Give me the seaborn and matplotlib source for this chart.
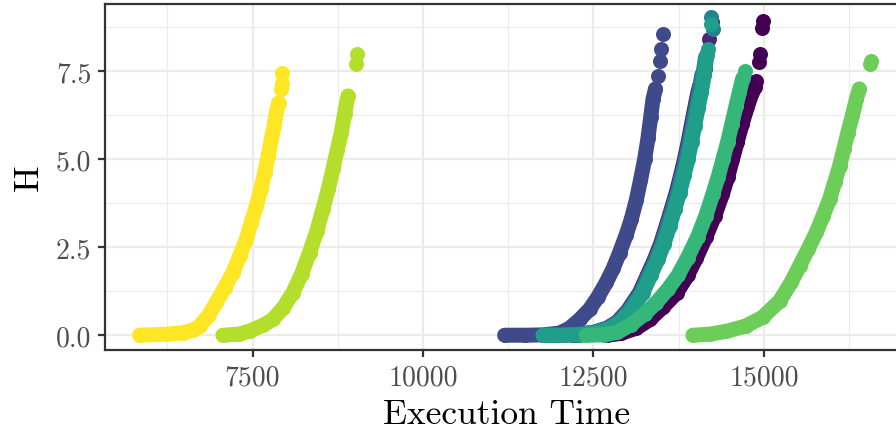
import matplotlib
matplotlib.use("Agg")
import matplotlib.pyplot as plt
import seaborn as sns

# colours of the ten runs (viridis, 10 levels)
run_colors = ["#440154", "#482878", "#3E4A89", "#31688E", "#26828E",
              "#1F9E89", "#35B779", "#6DCD59", "#B4DE2C", "#FDE725"]

# run 1
r1_t = [12700, 12900, 13130, 13330, 13520, 13720, 13880, 14010, 14150, 14280,
        14390, 14470, 14540, 14610, 14680, 14760, 14830, 14870]
r1_h = [0.0, 0.05, 0.2, 0.45, 0.8, 1.2, 1.7, 2.2, 2.8, 3.4,
        4.0, 4.5, 5.0, 5.5, 6.0, 6.5, 6.9, 7.04]
r1_dots_t = [14889, 14928, 14937, 14977, 14986]
r1_dots_h = [7.22, 7.75, 7.98, 8.74, 8.93]

# run 2
r2_t = [11900, 12200, 12500, 12700, 12850, 13000, 13176, 13290, 13396, 13485,
        13567, 13645, 13714, 13780, 13836, 13890, 13934, 13985, 14032, 14060]
r2_h = [0.0, 0.02, 0.08, 0.2, 0.38, 0.7, 1.21, 1.7, 2.16, 2.6,
        3.1, 3.6, 4.05, 4.55, 5.0, 5.5, 5.95, 6.45, 6.9, 7.1]
r2_dots_t = [14141, 14165, 14190, 14239]
r2_dots_h = [7.56, 8.03, 8.41, 8.89]

# run 3
r3_t = [11197, 11500, 11760, 12000, 12150, 12300, 12444, 12570, 12689, 12790,
        12884, 12980, 13056, 13130, 13190, 13251, 13300, 13340, 13373, 13410]
r3_h = [0.0, 0.0, 0.01, 0.06, 0.2, 0.45, 0.74, 1.1, 1.5, 1.9,
        2.35, 2.85, 3.3, 3.85, 4.4, 5.0, 5.6, 6.2, 6.7, 7.0]
r3_dots_t = [13446, 13471, 13485, 13520]
r3_dots_h = [7.37, 7.79, 8.13, 8.57]

# run 4
r4_t = [11800, 12000, 12265, 12515, 12715, 12865, 13015, 13191, 13305, 13411,
        13500, 13582, 13660, 13729, 13795, 13851, 13905, 13949, 14000, 14047, 14090]
r4_h = [0.0, 0.0, 0.02, 0.08, 0.2, 0.38, 0.7, 1.21, 1.7, 2.16,
        2.6, 3.1, 3.6, 4.05, 4.55, 5.0, 5.5, 5.95, 6.45, 6.9, 7.4]
r4_dots_t = []
r4_dots_h = []

# run 5
r5_t = [11780, 12000, 12280, 12530, 12730, 12880, 13030, 13206, 13320, 13426,
        13515, 13597, 13675, 13744, 13810, 13866, 13920, 13964, 14015, 14062, 14105, 14145]
r5_h = [0.0, 0.0, 0.02, 0.08, 0.2, 0.38, 0.7, 1.21, 1.7, 2.16,
        2.6, 3.1, 3.6, 4.05, 4.55, 5.0, 5.5, 5.95, 6.45, 6.9, 7.4, 7.9]
r5_dots_t = [14229, 14253]
r5_dots_h = [9.03, 8.69]

# run 6
r6_t = [11759, 12000, 12300, 12550, 12750, 12900, 13050, 13226, 13340, 13446,
        13535, 13617, 13695, 13764, 13830, 13886, 13940, 13984, 14035, 14082, 14125, 14165]
r6_h = [0.0, 0.0, 0.02, 0.08, 0.2, 0.38, 0.7, 1.21, 1.7, 2.16,
        2.6, 3.1, 3.6, 4.05, 4.55, 5.0, 5.5, 5.95, 6.45, 6.9, 7.4, 7.95]
r6_dots_t = [14180, 14229]
r6_dots_h = [8.13, 8.84]

# run 7
r7_t = [12396, 12650, 12850, 13050, 13250, 13420, 13590, 13740, 13880, 14030,
        14150, 14250, 14330, 14400, 14470, 14530, 14590, 14640, 14690]
r7_h = [0.0, 0.01, 0.08, 0.3, 0.6, 0.92, 1.3, 1.7, 2.2, 2.8,
        3.4, 4.0, 4.5, 5.0, 5.5, 6.0, 6.5, 6.9, 7.3]
r7_dots_t = [14728]
r7_dots_h = [7.52]

# run 8
r8_t = [13959, 14204, 14449, 14732, 14981, 15231, 15400, 15524, 15650, 15769,
        15870, 15964, 16040, 16111, 16175, 16233, 16300, 16356, 16400]
r8_h = [0.0, 0.03, 0.11, 0.26, 0.51, 0.97, 1.5, 1.97, 2.45, 2.92,
        3.4, 3.86, 4.35, 4.81, 5.3, 5.76, 6.25, 6.7, 7.0]
r8_dots_t = [16561, 16575]
r8_dots_h = [7.70, 7.79]

# run 9
r9_t = [7064, 7300, 7456, 7650, 7798, 7950, 8091, 8220, 8336, 8440,
        8531, 8610, 8678, 8740, 8801, 8850, 8898]
r9_h = [0.0, 0.03, 0.12, 0.28, 0.45, 0.78, 1.21, 1.75, 2.35, 2.95,
        3.58, 4.15, 4.72, 5.25, 5.76, 6.3, 6.8]
r9_dots_t = [9011, 9030]
r9_dots_h = [7.70, 7.98]

# run 10
r10_t = [5842, 6239, 6473, 6620, 6722, 6850, 6967, 7090, 7211, 7310,
         7407, 7480, 7554, 7620, 7676, 7730, 7774, 7815, 7847, 7880]
r10_h = [0.0, 0.03, 0.07, 0.14, 0.26, 0.55, 0.93, 1.35, 1.78, 2.25,
         2.73, 3.2, 3.67, 4.15, 4.62, 5.1, 5.57, 5.95, 6.33, 6.6]
r10_dots_t = [7921, 7935, 7935]
r10_dots_h = [6.99, 7.18, 7.44]

x_ticks = [7500, 10000, 12500, 15000]
x_tick_labels = ["7500", "10000", "12500", "15000"]
x_minor = [6250, 8750, 11250, 13750, 16250]
y_ticks = [0.0, 2.5, 5.0, 7.5]
y_tick_labels = ["0.0", "2.5", "5.0", "7.5"]
y_minor = [1.25, 3.75, 6.25, 8.75]

runs = [
    (r1_t, r1_h, r1_dots_t, r1_dots_h),
    (r2_t, r2_h, r2_dots_t, r2_dots_h),
    (r3_t, r3_h, r3_dots_t, r3_dots_h),
    (r4_t, r4_h, r4_dots_t, r4_dots_h),
    (r5_t, r5_h, r5_dots_t, r5_dots_h),
    (r6_t, r6_h, r6_dots_t, r6_dots_h),
    (r7_t, r7_h, r7_dots_t, r7_dots_h),
    (r8_t, r8_h, r8_dots_t, r8_dots_h),
    (r9_t, r9_h, r9_dots_t, r9_dots_h),
    (r10_t, r10_h, r10_dots_t, r10_dots_h),
]

sns.set_theme(style="white")
plt.rcParams["font.family"] = ["cmr10", "DejaVu Serif"]
plt.rcParams["mathtext.fontset"] = "cm"
plt.rcParams["axes.formatter.use_mathtext"] = True

fig = plt.figure(figsize=(8.96, 4.35), dpi=100)
# panel runs past the right edge of the picture, like the reference crop
ax = fig.add_axes([105.3 / 896, 1 - 351 / 435, 801.7 / 896, 346.3 / 435])

# points are ~15 px wide; the dense part of each run is drawn as a band of that width
dot_pt = 15 * 72 / 100
for i, ((t, h, dt, dh), col) in enumerate(zip(runs, run_colors)):
    z = 2 + i * 0.1
    sns.lineplot(x=t, y=h, sort=False, estimator=None, color=col,
                 ax=ax, zorder=z)
    band = ax.lines[-1]
    band.set_linewidth(dot_pt)
    band.set_solid_capstyle("round")
    band.set_solid_joinstyle("round")
    sns.scatterplot(x=t + dt, y=h + dh, color=col, s=dot_pt ** 2,
                    linewidth=0, ax=ax, zorder=z + 0.05)

ax.set_xlim(5339, 17100)
ax.set_ylim(-0.42, 9.42)

ax.set_xticks(x_ticks, x_tick_labels)
ax.set_xticks(x_minor, minor=True)
ax.set_yticks(y_ticks, y_tick_labels)
ax.set_yticks(y_minor, minor=True)

ax.grid(which="major", color="#EBEBEB", lw=1.6)
ax.grid(which="minor", color="#EBEBEB", lw=0.8)
ax.set_axisbelow(True)

for s in ax.spines.values():
    s.set_color("#333333")
    s.set_linewidth(1.6)
    s.set_zorder(5)

ax.tick_params(which="major", length=5, width=1.6, color="#333333",
               labelcolor="#4D4D4D", labelsize=20, pad=5, bottom=True, left=True)
ax.tick_params(which="minor", length=0)

ax.set_xlabel("Execution Time", fontsize=25.5, color="black", labelpad=6)
ax.set_ylabel("H", fontsize=25.5, color="black", labelpad=8)

fig.savefig("out.png", dpi=100)
